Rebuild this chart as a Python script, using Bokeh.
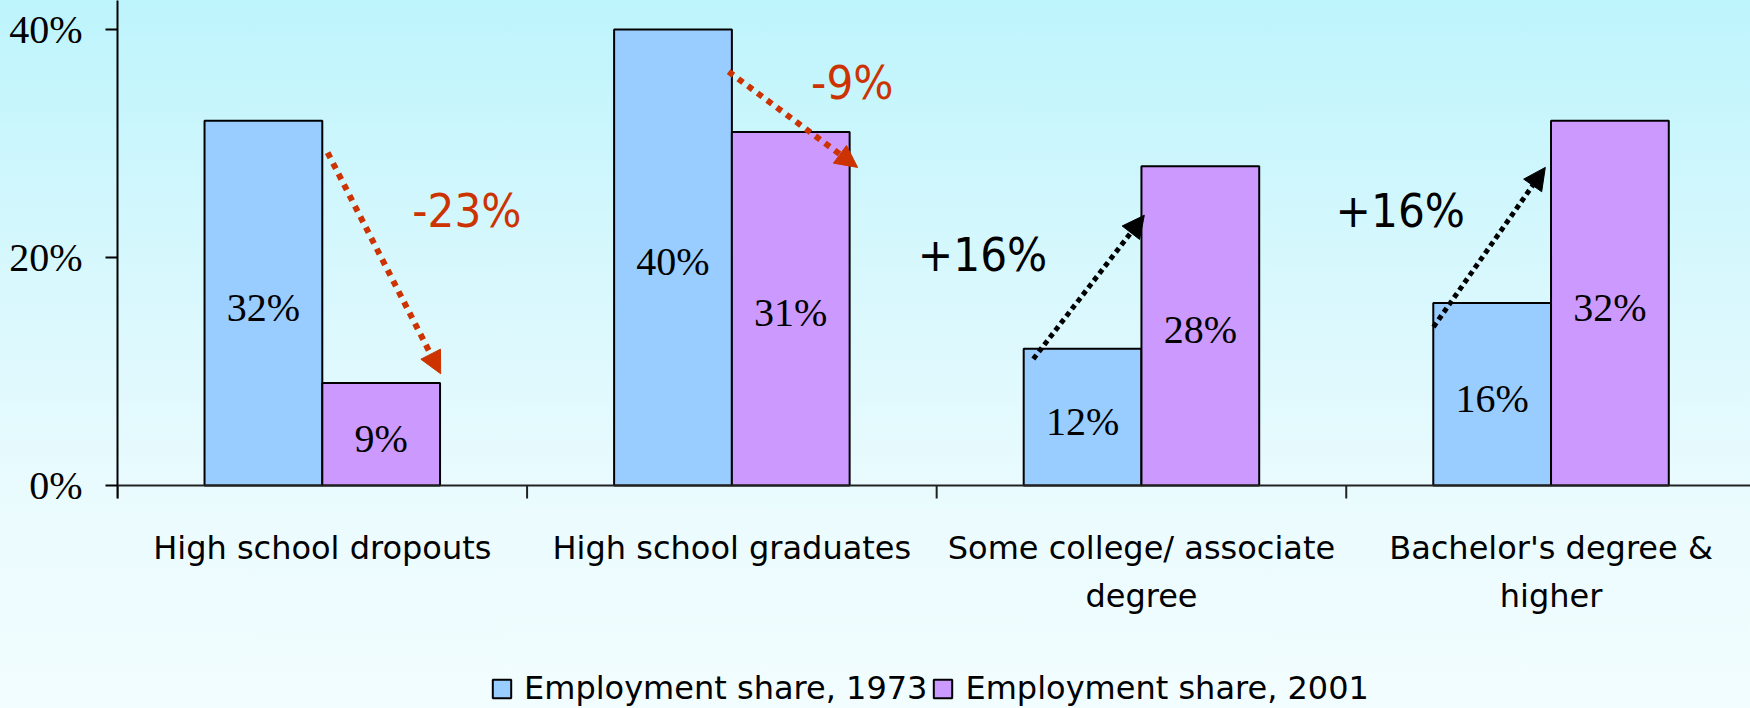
import numpy as np
from bokeh.plotting import figure
from bokeh.models import (Range1d, FixedTicker, Legend, LegendItem, Arrow,
                          NormalHead, ColumnDataSource, Span)
from bokeh.core.properties import value
from bokeh.embed import file_html
from bokeh.resources import INLINE

# ---------------- data ----------------
categories = ["High school dropouts", "High school graduates",
              "Some college/ associate\ndegree", "Bachelor's degree &\nhigher"]
share_1973 = [32, 40, 12, 16]
share_2001 = [9, 31, 28, 32]
series_names = ["Employment share, 1973", "Employment share, 2001"]
changes = ["-23%", "-9%", "+16%", "+16%"]
y_ticks = [0, 20, 40]
y_tick_labels = ["0%", "20%", "40%"]

# ---------------- layout helpers (positions, not data) ----------------
change_label_x = [0.853, 1.794, 2.112, 3.132]
change_label_y = [24.1, 35.35, 20.3, 24.1]
arrow_start_dx = [0.513, 0.492, 0.236, 0.213]
arrow_start_dy = [-2.8, -3.7, -0.9, -2.1]
arrow_end_dx = [0.789, 0.807, 0.507, 0.486]
arrow_end_dy = [0.8, -3.1, -4.3, -4.1]
Y_TOP = 42.54          # value at the top edge
Y_BOTTOM = -19.56      # value at the bottom edge of the picture
TICK_LEN = 1.14        # category boundary tick length (in value units)
LABEL_LINE_Y = [-5.44, -9.65]   # vertical position of category label lines

BLUE = "#99CCFF"
PURPLE = "#CC99FF"
RED = "#CC3300"
BAR_W = 0.2875

idx = np.arange(len(categories))
centers = idx + 0.5
x1973 = centers - BAR_W / 2
x2001 = centers + BAR_W / 2

src1 = ColumnDataSource(dict(x=x1973, top=share_1973,
                             mid=[v / 2 for v in share_1973],
                             lab=[f"{v}%" for v in share_1973]))
src2 = ColumnDataSource(dict(x=x2001, top=share_2001,
                             mid=[v / 2 for v in share_2001],
                             lab=[f"{v}%" for v in share_2001]))

p = figure(width=1750, height=708, output_backend="svg", toolbar_location=None,
           x_range=Range1d(0, 3.987), y_range=Range1d(Y_BOTTOM, Y_TOP),
           x_axis_location=None,
           min_border_left=117, min_border_right=0, min_border_top=0,
           min_border_bottom=0)
p.border_fill_color = None
p.background_fill_color = None
p.outline_line_color = None
p.styles = {"background": "linear-gradient(180deg, #BEF4FC 0%, #D8F8FD 40%, #EAFBFE 70%, #F2FDFF 100%)"}
p.grid.visible = False

r1 = p.vbar(x="x", top="top", bottom=0, width=BAR_W, source=src1,
            fill_color=BLUE, line_color="black", line_width=2)
r2 = p.vbar(x="x", top="top", bottom=0, width=BAR_W, source=src2,
            fill_color=PURPLE, line_color="black", line_width=2)

for s in (src1, src2):
    p.text(x="x", y="mid", text="lab", source=s, text_align="center",
           text_baseline="middle", y_offset=4,
           text_font=value("Liberation Serif"), text_font_size="40px",
           text_color="black")

# change arrows and labels
for i in range(len(categories)):
    col = RED if changes[i].startswith("-") else "black"
    lw = 6 if col == RED else 5
    dash = "6 6" if col == RED else "5 4"
    p.add_layout(Arrow(x_start=i + arrow_start_dx[i], y_start=share_1973[i] + arrow_start_dy[i],
                       x_end=i + arrow_end_dx[i], y_end=share_2001[i] + arrow_end_dy[i],
                       line_color=col, line_width=lw, line_dash=dash,
                       end=NormalHead(size=22, fill_color=col, line_color=col, line_width=1)))

p.text(x=change_label_x, y=change_label_y, text=changes,
       text_color=[RED if c.startswith("-") else "black" for c in changes],
       text_align="center", text_baseline="middle",
       text_font=value("DejaVu Sans Condensed, Roboto"), text_font_size="47px")

# y axis (line limited to the value area plus the tick below zero)
ya = p.yaxis[0]
ya.ticker = FixedTicker(ticks=y_ticks)
ya.major_label_overrides = {t: l for t, l in zip(y_ticks, y_tick_labels)}
ya.bounds = (-TICK_LEN, Y_TOP)
ya.major_label_text_font = "Liberation Serif"
ya.major_label_text_font_size = "40px"
ya.major_label_text_color = "black"
ya.major_tick_out = 12
ya.major_tick_in = 0
ya.minor_tick_line_color = None
ya.major_tick_line_width = 2
ya.axis_line_width = 2
ya.axis_line_color = "black"
ya.major_tick_line_color = "black"
ya.major_label_standoff = 23

# category axis: base line, boundary ticks and labels
p.add_layout(Span(location=0, dimension="width", line_color="#222222", line_width=2))
bounds_x = list(range(len(categories) + 1))
p.segment(x0=bounds_x, y0=[0] * len(bounds_x), x1=bounds_x,
          y1=[-TICK_LEN] * len(bounds_x), line_color="#222222", line_width=2)

first_lines = [c.split("\n")[0] for c in categories]
second_x = [float(centers[i]) for i, c in enumerate(categories) if "\n" in c]
second_lines = [c.split("\n")[1] for c in categories if "\n" in c]
p.text(x=list(centers), y=[LABEL_LINE_Y[0]] * len(categories), text=first_lines,
       text_align="center", text_baseline="middle",
       text_font=value("DejaVu Sans"), text_font_size="32px", text_color="black")
p.text(x=second_x, y=[LABEL_LINE_Y[1]] * len(second_x), text=second_lines,
       text_align="center", text_baseline="middle",
       text_font=value("DejaVu Sans"), text_font_size="32px", text_color="black")

legend = Legend(items=[LegendItem(label=series_names[0], renderers=[r1]),
                       LegendItem(label=series_names[1], renderers=[r2])],
                orientation="horizontal", location=(373, 1),
                label_text_font="DejaVu Sans", label_text_font_size="32px",
                label_text_color="black",
                glyph_width=23, glyph_height=23, label_standoff=11, spacing=4,
                border_line_color=None, background_fill_alpha=0, padding=0, margin=0)
p.add_layout(legend, "center")

open("out.html", "w").write(file_html(p, INLINE))
